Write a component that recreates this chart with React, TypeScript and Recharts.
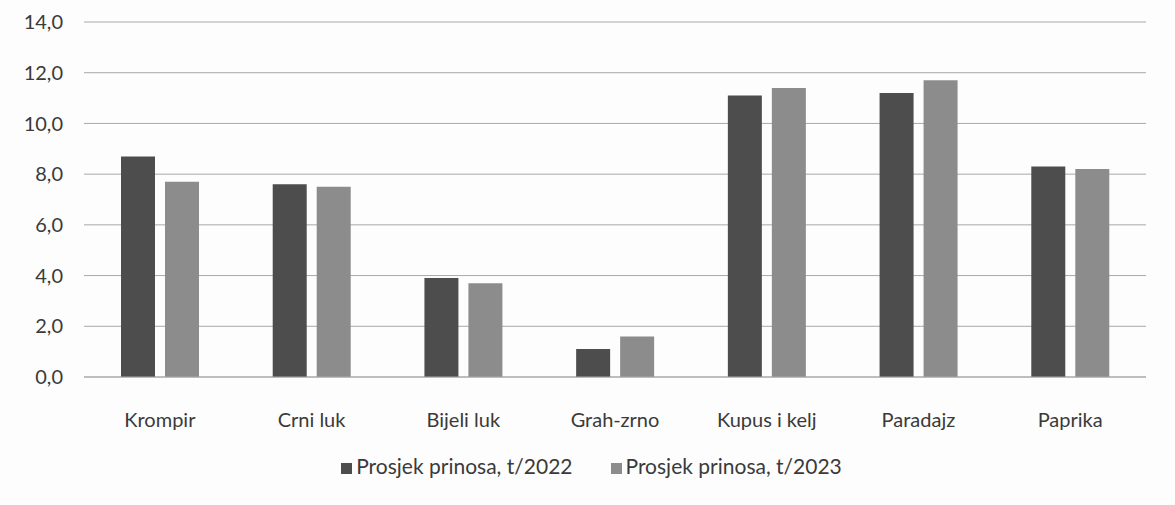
import { Bar, BarChart, CartesianGrid, Legend, XAxis, YAxis } from 'recharts'

const categories = ['Krompir', 'Crni luk', 'Bijeli luk', 'Grah-zrno', 'Kupus i kelj', 'Paradajz', 'Paprika']
const yield2022 = [8.7, 7.6, 3.9, 1.1, 11.1, 11.2, 8.3]
const yield2023 = [7.7, 7.5, 3.7, 1.6, 11.4, 11.7, 8.2]
const yTicks = [0, 2, 4, 6, 8, 10, 12, 14]

const data = categories.map((name, i) => ({
    name,
    y2022: yield2022[i],
    y2023: yield2023[i],
}))

const FONT = 'Lato, "Open Sans", sans-serif'
const TEXT = '#3a3a3a'

const App = () => {
    return (
        <div style={{ position: 'absolute', left: 0, top: 0, width: 1175, height: 505, background: '#fdfdfd', fontFamily: FONT }}>
            <BarChart
                width={1175}
                height={505}
                data={data}
                margin={{ top: 22, right: 29, bottom: 33, left: 0 }}
                barSize={34}
                barGap={10}
            >
                <CartesianGrid vertical={false} stroke="#a8a8a8" />
                <XAxis
                    dataKey="name"
                    axisLine={{ stroke: '#a8a8a8' }}
                    tickLine={false}
                    tickSize={0}
                    tickMargin={36}
                    height={70}
                    tick={{ fill: TEXT, fontSize: 20, fontFamily: FONT }}
                />
                <YAxis
                    width={84}
                    domain={[0, 14]}
                    ticks={yTicks}
                    axisLine={false}
                    tickLine={false}
                    tickSize={0}
                    tickMargin={21}
                    tickFormatter={(v: number) => v.toFixed(1).replace('.', ',')}
                    tick={{ fill: TEXT, fontSize: 20, fontFamily: FONT }}
                />
                <Legend
                    verticalAlign="bottom"
                    iconType="square"
                    iconSize={11}
                    wrapperStyle={{ left: 0, width: 1175, bottom: 27, paddingLeft: 18, boxSizing: 'border-box', fontSize: 21, fontFamily: FONT }}
                    formatter={(value: string, _entry: unknown, index: number) => (
                        <span style={{ color: TEXT, marginRight: index === 0 ? 28 : 0 }}>{value}</span>
                    )}
                />
                <Bar dataKey="y2022" name="Prosjek prinosa, t/2022" fill="#4d4d4d" isAnimationActive={false} />
                <Bar dataKey="y2023" name="Prosjek prinosa, t/2023" fill="#8c8c8c" isAnimationActive={false} />
            </BarChart>
        </div>
    )
}

export default App
